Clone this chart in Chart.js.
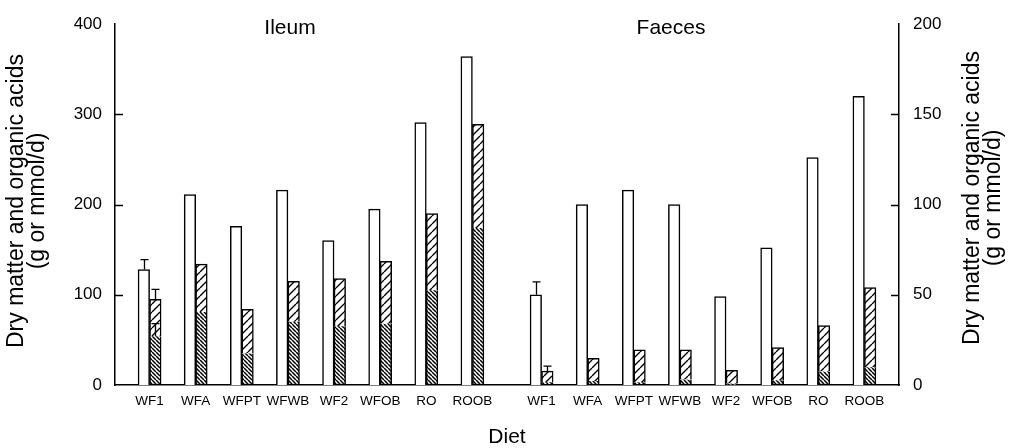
<!DOCTYPE html>
<html><head><meta charset="utf-8">
<script src="https://cdn.jsdelivr.net/npm/chart.js@4/dist/chart.umd.min.js"></script>
<style>html,body{margin:0;padding:0;background:#fff}#wrap{width:1010px;height:448px}</style>
</head><body><div id="wrap"><canvas id="c" width="1010" height="448"></canvas></div>
<script>
// ---- data ----
const diets = ['WF1', 'WFA', 'WFPT', 'WFWB', 'WF2', 'WFOB', 'RO', 'ROOB'];
const groups = ['Ileum', 'Faeces'];
const xTitle = 'Diet';
const yTitleLines = ['Dry matter and organic acids', '(g or mmol/d)'];

// Ileum (left axis, 0-400)
const ileumDryMatter   = [128, 211, 176, 216, 160, 195, 291, 364];
const ileumAcidsTotal  = [95, 134, 84, 115, 118, 137, 190, 289];
const ileumAcidsLower  = [54, 81, 35, 70, 65, 68, 105, 174];
const ileumDryMatterSE = [11, null, null, null, null, null, null, null];
const ileumAcidsTotalSE= [11, null, null, null, null, null, null, null];
const ileumAcidsLowerSE= [14, null, null, null, null, null, null, null];

// Faeces (right axis, 0-200)
const faecesDryMatter   = [50, 100, 108, 100, 49, 76, 126, 160];
const faecesAcidsTotal  = [7.7, 14.8, 19.5, 19.5, 8.1, 20.8, 33, 54];
const faecesAcidsLower  = [1.5, 2.2, 1.5, 3, 0.8, 2.7, 7.5, 9.8];
const faecesDryMatterSE = [7.2, null, null, null, null, null, null, null];
const faecesAcidsTotalSE= [2.8, null, null, null, null, null, null, null];

const leftTicks = {min: 0, max: 400, step: 100};
const rightTicks = {min: 0, max: 200, step: 50};

// ---- category slots: diets separated by blank slots, wider gap between groups ----
const slots = [null];
diets.forEach((d, i) => { slots.push({g: 0, i}); if (i < diets.length - 1) slots.push(null); });
slots.push(null, null);
diets.forEach((d, i) => { slots.push({g: 1, i}); if (i < diets.length - 1) slots.push(null); });
slots.push(null);
const labels = slots.map(s => s ? diets[s.i] : '');
const pick = (g, arr) => slots.map(s => (s && s.g === g) ? arr[s.i] : null);
const pickUpper = (g, tot, low) => slots.map(s => (s && s.g === g) ? tot[s.i] - low[s.i] : null);

// ---- hatch patterns ----
const canvas = document.getElementById('c');
const mainCtx = canvas.getContext('2d');
function hatch(size, dir, lw) {
  const t = document.createElement('canvas');
  t.width = t.height = size;
  const g = t.getContext('2d');
  g.fillStyle = '#fff'; g.fillRect(0, 0, size, size);
  g.strokeStyle = '#000'; g.lineWidth = lw; g.beginPath();
  for (let k = -size; k <= size; k += size) {
    if (dir > 0) { g.moveTo(k, size); g.lineTo(k + size, 0); }
    else { g.moveTo(k, 0); g.lineTo(k + size, size); }
  }
  g.stroke();
  return mainCtx.createPattern(t, 'repeat');
}
const sparse = hatch(8, 1, 1.4);
const dense = hatch(4, -1, 1.5);

const FONT = '"Liberation Sans", Arial, Helvetica, sans-serif';
const common = {borderColor: '#000', borderWidth: 1.5, skipNull: true, barPercentage: 1, categoryPercentage: 1};

const datasets = [
  {...common, label: 'Ileum dry matter', data: pick(0, ileumDryMatter), yAxisID: 'y', stack: 'dmI',
   backgroundColor: '#fff', tops: pick(0, ileumDryMatter), errs: pick(0, ileumDryMatterSE)},
  {...common, label: 'Ileum acids (lower)', data: pick(0, ileumAcidsLower), yAxisID: 'y', stack: 'acI',
   backgroundColor: dense, borderSkipped: 'top', tops: pick(0, ileumAcidsLower), errs: pick(0, ileumAcidsLowerSE)},
  {...common, label: 'Ileum acids (upper)', data: pickUpper(0, ileumAcidsTotal, ileumAcidsLower), yAxisID: 'y', stack: 'acI',
   backgroundColor: sparse, borderSkipped: 'bottom', tops: pick(0, ileumAcidsTotal), errs: pick(0, ileumAcidsTotalSE)},
  {...common, label: 'Faeces dry matter', data: pick(1, faecesDryMatter), yAxisID: 'y2', stack: 'dmF',
   backgroundColor: '#fff', tops: pick(1, faecesDryMatter), errs: pick(1, faecesDryMatterSE)},
  {...common, label: 'Faeces acids (lower)', data: pick(1, faecesAcidsLower), yAxisID: 'y2', stack: 'acF',
   backgroundColor: dense, borderSkipped: 'top', tops: pick(1, faecesAcidsLower), errs: slots.map(() => null)},
  {...common, label: 'Faeces acids (upper)', data: pickUpper(1, faecesAcidsTotal, faecesAcidsLower), yAxisID: 'y2', stack: 'acF',
   backgroundColor: sparse, borderSkipped: 'bottom', tops: pick(1, faecesAcidsTotal), errs: pick(1, faecesAcidsTotalSE)}
];

const errorBars = {
  id: 'errorBars',
  afterDatasetsDraw(chart) {
    const ctx = chart.ctx;
    ctx.save();
    ctx.strokeStyle = '#000'; ctx.lineWidth = 1.3;
    chart.data.datasets.forEach((ds, di) => {
      const meta = chart.getDatasetMeta(di);
      const sc = chart.scales[ds.yAxisID];
      ds.errs.forEach((se, idx) => {
        if (se == null) return;
        const el = meta.data[idx];
        const x = Math.round(el.x) + 0.5;
        const yTop = sc.getPixelForValue(ds.tops[idx] + se);
        ctx.beginPath();
        ctx.moveTo(x, el.y); ctx.lineTo(x, yTop);
        ctx.moveTo(x - 4, yTop); ctx.lineTo(x + 4, yTop);
        ctx.stroke();
      });
    });
    ctx.restore();
  }
};

const decor = {
  id: 'decor',
  afterDraw(chart) {
    const {ctx, chartArea: a, scales} = chart;
    ctx.save();
    ctx.strokeStyle = '#000'; ctx.lineWidth = 1.5;
    [['y', 1], ['y2', -1]].forEach(([id, dir]) => {
      const s = scales[id];
      const x0 = dir > 0 ? a.left : a.right;
      s.ticks.forEach(t => {
        if (t.value === s.min || t.value === s.max) return;
        const y = Math.round(s.getPixelForValue(t.value)) + 0.5;
        ctx.beginPath(); ctx.moveTo(x0, y); ctx.lineTo(x0 + dir * 8, y); ctx.stroke();
      });
    });
    ctx.fillStyle = '#000'; ctx.textAlign = 'center'; ctx.textBaseline = 'middle';
    ctx.font = '23px ' + FONT;
    const drawV = (x, y, lines) => {
      ctx.save(); ctx.translate(x, y); ctx.rotate(-Math.PI / 2);
      lines.forEach((l, i) => ctx.fillText(l, 0, i * 21));
      ctx.restore();
    };
    drawV(17, 201, yTitleLines);
    drawV(973, 198, yTitleLines);
    ctx.font = '21px ' + FONT;
    ctx.fillText(groups[0], 290, 28);
    ctx.fillText(groups[1], 671, 28);
    ctx.restore();
  }
};

new Chart(canvas, {
  type: 'bar',
  data: {labels, datasets},
  options: {
    responsive: false, animation: false,
    layout: {padding: {top: 16, left: 0, right: 0, bottom: 0}},
    plugins: {legend: {display: false}, tooltip: {enabled: false}},
    scales: {
      x: {
        grid: {display: false, drawTicks: false},
        border: {display: true, color: '#000', width: 1.5},
        ticks: {autoSkip: false, maxRotation: 0, minRotation: 0, padding: 8, color: '#000', font: {family: FONT, size: 13.5}},
        title: {display: true, text: xTitle, color: '#000', font: {family: FONT, size: 21, lineHeight: 1}, padding: {top: 0, bottom: 0}},
        afterFit: s => { s.height = 63; }
      },
      y: {
        position: 'left', min: leftTicks.min, max: leftTicks.max,
        grid: {display: false, drawTicks: false},
        border: {display: true, color: '#000', width: 1.5},
        ticks: {stepSize: leftTicks.step, padding: 13, color: '#000', font: {family: FONT, size: 17}},
        afterFit: s => { s.width = 115; }
      },
      y2: {
        position: 'right', min: rightTicks.min, max: rightTicks.max,
        grid: {display: false, drawTicks: false},
        border: {display: true, color: '#000', width: 1.5},
        ticks: {stepSize: rightTicks.step, padding: 14, color: '#000', font: {family: FONT, size: 17}},
        afterFit: s => { s.width = 111; }
      }
    }
  },
  plugins: [errorBars, decor]
});
</script>
</body></html>
